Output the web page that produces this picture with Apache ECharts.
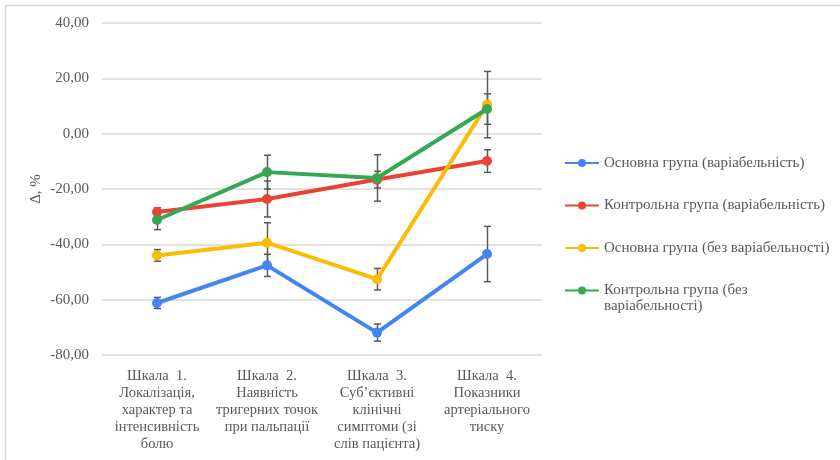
<!DOCTYPE html>
<html>
<head>
<meta charset="utf-8">
<script src="https://cdn.jsdelivr.net/npm/echarts@6/dist/echarts.min.js"></script>
<style>html,body{margin:0;padding:0;background:#fff;}#c{width:840px;height:460px;}</style>
</head>
<body>
<div id="c"></div>
<script>
const categories = [
  'Шкала  1.\nЛокалізація,\nхарактер та\nінтенсивність\nболю',
  'Шкала  2.\nНаявність\nтригерних точок\nпри пальпації',
  'Шкала  3.\nСуб’єктивні\nклінічні\nсимптоми (зі\nслів пацієнта)',
  'Шкала  4.\nПоказники\nартеріального\nтиску'
];
const seriesNames = [
  'Основна група (варіабельність)',
  'Контрольна група (варіабельність)',
  'Основна група (без варіабельності)',
  'Контрольна група (без варіабельності)'
];
const mainVar = [-61.2, -47.6, -71.9, -43.5];
const mainVarErr = [2.0, 4.0, 3.1, 10.0];
const ctrlVar = [-28.3, -23.6, -16.6, -9.9];
const ctrlVarErr = [1.5, 6.5, 3.0, 4.1];
const mainNoVar = [-44.0, -39.4, -52.6, 10.5];
const mainNoVarErr = [2.1, 7.2, 3.9, 12.0];
const ctrlNoVar = [-31.2, -13.9, -16.0, 8.9];
const ctrlNoVarErr = [3.5, 6.1, 8.4, 5.5];
const yTicks = { min: -80, max: 40, interval: 20 };
const colors = ['#4285F4', '#EA4335', '#FBBC04', '#34A853'];

const FONT = "'Liberation Serif', 'Times New Roman', serif";
const TXT = '#595959';
const values = [mainVar, ctrlVar, mainNoVar, ctrlNoVar];
const errs = [mainVarErr, ctrlVarErr, mainNoVarErr, ctrlNoVarErr];

const lineSeries = seriesNames.map((n, i) => ({
  name: n, type: 'line', data: values[i], z: 4,
  symbol: 'circle', symbolSize: 10,
  lineStyle: { width: 4, color: colors[i] },
  itemStyle: { color: colors[i] },
  emphasis: { disabled: true }
}));

const errSeries = seriesNames.map((n, i) => ({
  name: n + ' err', type: 'custom', z: 3,
  data: values[i].map((v, k) => [k, v, errs[i][k]]),
  renderItem: function (params, api) {
    const c = api.value(0), v = api.value(1), e = api.value(2);
    const top = api.coord([c, v + e]);
    const bot = api.coord([c, v - e]);
    const x = Math.round(top[0]) + 0.5;
    const st = { stroke: '#595959', lineWidth: 1.5 };
    const w = 3.5;
    return { type: 'group', children: [
      { type: 'line', shape: { x1: x, y1: top[1], x2: x, y2: bot[1] }, style: st },
      { type: 'line', shape: { x1: x - w, y1: top[1], x2: x + w, y2: top[1] }, style: st },
      { type: 'line', shape: { x1: x - w, y1: bot[1], x2: x + w, y2: bot[1] }, style: st }
    ]};
  }
}));

const chart = echarts.init(document.getElementById('c'));
chart.setOption({
  animation: false,
  backgroundColor: '#fff',
  textStyle: { fontFamily: FONT },
  graphic: [{
    type: 'rect', shape: { x: 5.5, y: 5.5, width: 900, height: 500 },
    style: { fill: 'none', stroke: '#d9d9d9', lineWidth: 1.5 }, silent: true
  }],
  grid: { left: 102, right: 298, top: 23, bottom: 105 },
  legend: {
    orient: 'vertical', left: 564, top: 139, padding: 0,
    itemWidth: 34, itemHeight: 10, itemGap: -5.5,
    textStyle: { fontFamily: FONT, fontSize: 15, color: TXT, lineHeight: 16 },
    data: seriesNames.map((n, i) => i === 3
      ? { name: n }
      : { name: n, textStyle: { padding: [16, 0, 16, 0] } }),
    formatter: function (name) {
      return name === seriesNames[3] ? '\nКонтрольна група (без\nваріабельності)' : name;
    }
  },
  xAxis: {
    type: 'category', data: categories, boundaryGap: true,
    axisLine: { show: false }, axisTick: { show: false },
    axisLabel: { interval: 0, margin: 13, fontFamily: FONT, fontSize: 14.5, color: TXT, lineHeight: 17 }
  },
  yAxis: {
    type: 'value', min: yTicks.min, max: yTicks.max, interval: yTicks.interval,
    name: 'Δ, %', nameLocation: 'middle', nameRotate: 90, nameGap: 58,
    nameMoveOverlap: false,
    nameTextStyle: { fontFamily: FONT, fontSize: 15, color: TXT },
    axisLine: { show: false }, axisTick: { show: false },
    splitLine: { lineStyle: { color: '#d9d9d9', width: 1.5 } },
    axisLabel: { margin: 13, fontFamily: FONT, fontSize: 15, color: TXT,
      formatter: v => v.toFixed(2).replace('.', ',') }
  },
  series: errSeries.concat(lineSeries)
});
</script>
</body>
</html>
